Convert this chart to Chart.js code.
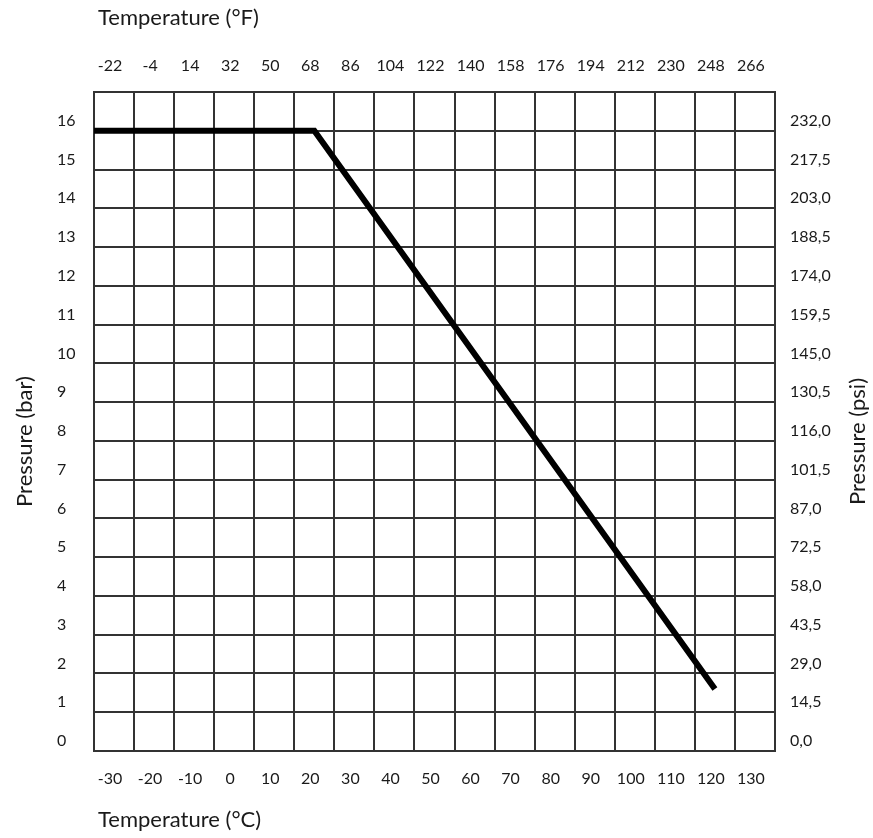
<!DOCTYPE html>
<html>
<head>
<meta charset="utf-8">
<title>Pressure / temperature</title>
<script src="https://cdn.jsdelivr.net/npm/chart.js@4.4.1/dist/chart.umd.min.js"></script>
<style>
    html, body { margin: 0; padding: 0; background: #fff; }
    #wrap { width: 873px; height: 838px; }
</style>
</head>
<body>
<div id="wrap"><canvas id="ptChart"></canvas></div>
<script>
        // Pressure rating curve (°C -> bar)
        const tempC = [-35, 20, 120];
        const pressureBar = [16, 16, 1.6];

        // Tick labels
        const celsiusTicks = [-30, -20, -10, 0, 10, 20, 30, 40, 50, 60, 70, 80, 90, 100, 110, 120, 130];
        const fahrenheitTicks = [-22, -4, 14, 32, 50, 68, 86, 104, 122, 140, 158, 176, 194, 212, 230, 248, 266];
        const barTicks = [0, 1, 2, 3, 4, 5, 6, 7, 8, 9, 10, 11, 12, 13, 14, 15, 16];
        const psiTicks = [0, 14.5, 29, 43.5, 58, 72.5, 87, 101.5, 116, 130.5, 145, 159.5, 174, 188.5, 203, 217.5, 232];

        const gridColor = '#333';
        const textColor = '#1a1a1a';
        const tickFont = { family: 'Lato', size: 16 };

        function fixedTicks(values) {
            return function(scale) {
                scale.ticks = values.map(v => ({ value: v }));
            };
        }

        // Axis titles drawn around the plot area
        const axisTitles = {
            id: 'axisTitles',
            afterDraw(chart) {
                const ctx = chart.ctx;
                const area = chart.chartArea;
                const midY = (area.top + area.bottom) / 2 + 20;
                ctx.save();
                ctx.fillStyle = textColor;
                ctx.font = '22px Lato';
                ctx.textBaseline = 'middle';
                ctx.textAlign = 'left';
                ctx.fillText('Temperature (°F)', area.left + 4, 18);
                ctx.fillText('Temperature (°C)', area.left + 4, 820);

                ctx.textAlign = 'center';
                ctx.translate(25, midY);
                ctx.rotate(-Math.PI / 2);
                ctx.fillText('Pressure (bar)', 0, 0);
                ctx.restore();

                ctx.save();
                ctx.fillStyle = textColor;
                ctx.font = '22px Lato';
                ctx.textBaseline = 'middle';
                ctx.textAlign = 'center';
                ctx.translate(858, midY);
                ctx.rotate(-Math.PI / 2);
                ctx.fillText('Pressure (psi)', 0, 0);
                ctx.restore();
            }
        };

        const ctx = document.getElementById('ptChart').getContext('2d');
        const ptChart = new Chart(ctx, {
            type: 'line',
            data: {
                datasets: [{
                    data: tempC.map((t, i) => ({ x: t, y: pressureBar[i] })),
                    xAxisID: 'x',
                    yAxisID: 'y',
                    borderColor: '#000',
                    borderWidth: 6,
                    borderJoinStyle: 'miter',
                    pointRadius: 0,
                    tension: 0,
                    fill: false
                }]
            },
            options: {
                responsive: true,
                maintainAspectRatio: false,
                animation: false,
                layout: { padding: { left: 57, right: 0, top: 0, bottom: 0 } },
                plugins: {
                    legend: { display: false },
                    tooltip: { enabled: false }
                },
                scales: {
                    x: {
                        type: 'linear',
                        position: 'bottom',
                        min: -35,
                        max: 135,
                        afterBuildTicks: fixedTicks(celsiusTicks),
                        afterFit: s => { s.height = 87; },
                        grid: { offset: true, color: gridColor, lineWidth: 2, drawTicks: false },
                        border: { display: true, color: gridColor, width: 2 },
                        ticks: { font: tickFont, color: textColor, padding: 18, labelOffset: -4, maxRotation: 0, autoSkip: false }
                    },
                    x2: {
                        type: 'linear',
                        position: 'top',
                        min: -31,
                        max: 275,
                        afterBuildTicks: fixedTicks(fahrenheitTicks),
                        afterFit: s => { s.height = 92; },
                        grid: { display: false, drawTicks: false },
                        border: { display: true, color: gridColor, width: 2 },
                        ticks: { font: tickFont, color: textColor, padding: 17, labelOffset: -4, maxRotation: 0, autoSkip: false }
                    },
                    y: {
                        type: 'linear',
                        position: 'left',
                        min: 0,
                        max: 17,
                        afterBuildTicks: fixedTicks(barTicks),
                        afterFit: s => { s.width = 37; },
                        grid: { color: gridColor, lineWidth: 2, drawTicks: false },
                        border: { display: true, color: gridColor, width: 2 },
                        ticks: { font: tickFont, color: textColor, crossAlign: 'far', labelOffset: -10, autoSkip: false }
                    },
                    y2: {
                        type: 'linear',
                        position: 'right',
                        min: 0,
                        max: 246.5,
                        afterBuildTicks: fixedTicks(psiTicks),
                        afterFit: s => { s.width = 98; },
                        grid: { display: false, drawTicks: false },
                        border: { display: true, color: gridColor, width: 2 },
                        ticks: {
                            font: tickFont,
                            color: textColor,
                            padding: 15,
                            labelOffset: -10,
                            autoSkip: false,
                            callback: value => value.toFixed(1).replace('.', ',')
                        }
                    }
                }
            },
            plugins: [axisTitles]
        });
</script>
</body>
</html>
